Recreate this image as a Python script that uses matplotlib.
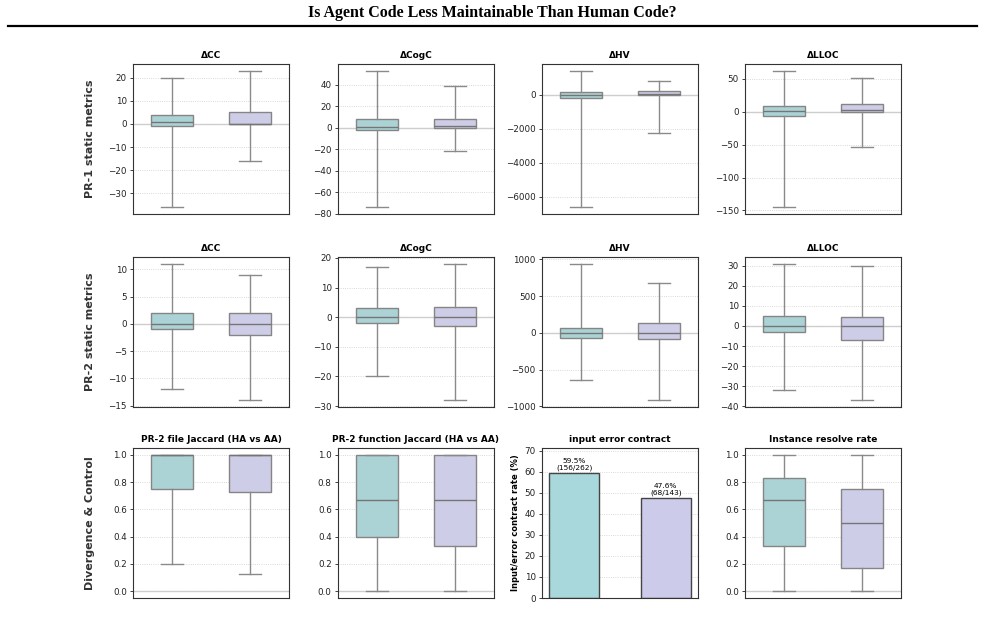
import matplotlib.pyplot as plt

TEAL = '#abd3d5'
LAV = '#cecde7'
BAR_TEAL = '#a8d8dc'
BAR_LAV = '#cccbe9'

# summary stats per panel: [whislo, q1, med, q3, whishi] for HA and AA
pr1_titles = ['ΔCC', 'ΔCogC', 'ΔHV', 'ΔLLOC']
pr1_ha = [[-36, -1, 1, 4, 20], [-74, -2, 1, 8, 53],
          [-6600, -200, -40, 130, 1400], [-145, -7, 1, 8.5, 62]]
pr1_aa = [[-16, 0, 0, 5, 23], [-22, 0, 2, 8, 39],
          [-2250, -10, 40, 230, 780], [-53, 0, 2, 12, 51]]

pr2_titles = ['ΔCC', 'ΔCogC', 'ΔHV', 'ΔLLOC']
pr2_ha = [[-12, -1, 0, 2, 11], [-20, -2, 0, 3, 17],
          [-640, -77, 0, 68, 940], [-32, -3, 0, 5, 31]]
pr2_aa = [[-14, -2, 0, 2, 9], [-28, -3, 0, 3.5, 18],
          [-918, -91, 0, 127, 682], [-37, -7, 0, 4.5, 30]]

div_titles = ['PR-2 file Jaccard (HA vs AA)', 'PR-2 function Jaccard (HA vs AA)',
              'input error contract', 'Instance resolve rate']
file_jac = [[0.2, 0.75, 1.0, 1.0, 1.0], [0.125, 0.73, 1.0, 1.0, 1.0]]
func_jac = [[0.0, 0.4, 0.667, 1.0, 1.0], [0.0, 0.333, 0.667, 1.0, 1.0]]
resolve = [[0.0, 0.333, 0.667, 0.833, 1.0], [0.0, 0.167, 0.5, 0.75, 1.0]]

contract_rate = [59.5, 47.6]
contract_hits = [156, 68]
contract_total = [262, 143]

row_labels = ['PR-1 static metrics', 'PR-2 static metrics', 'Divergence & Control']

W, H = 985, 627
LEFTS = [133, 338, 542, 745]
TOPS = [64, 257, 448]
AW, AH = 156, 150


def make_ax(fig, r, c):
    return fig.add_axes([LEFTS[c] / W, (H - TOPS[r] - AH) / H, AW / W, AH / H])


def style(ax, title):
    ax.set_title(title, fontsize=6.5, fontweight='bold', pad=4)
    ax.set_xticks([])
    ax.tick_params(axis='y', labelsize=6.3, length=2.5, width=0.6, pad=2, colors='#222222')
    ax.yaxis.grid(True, linestyle=':', color='#cccccc', linewidth=0.6)
    ax.set_axisbelow(True)
    for s in ax.spines.values():
        s.set_color('#333333')
        s.set_linewidth(0.8)


def box_panel(ax, ha, aa, title):
    stats = []
    for v in (ha, aa):
        stats.append(dict(whislo=v[0], q1=v[1], med=v[2], q3=v[3], whishi=v[4]))
    ax.axhline(0, color='#cfcfcf', linewidth=1.0, zorder=0.5)
    bp = ax.bxp(stats, positions=[0, 1], widths=0.55, patch_artist=True, showfliers=False,
                boxprops=dict(edgecolor='#858585', linewidth=1.0),
                whiskerprops=dict(color='#8a8a8a', linewidth=1.0),
                capprops=dict(color='#8a8a8a', linewidth=1.0),
                medianprops=dict(color='#757575', linewidth=1.0))
    for patch, col in zip(bp['boxes'], [TEAL, LAV]):
        patch.set_facecolor(col)
    ax.set_xlim(-0.5, 1.5)
    style(ax, title)


def main():
    fig = plt.figure(figsize=(W / 100, H / 100), dpi=100)

    fig.text(0.5, 1 - 13 / H, 'Is Agent Code Less Maintainable Than Human Code?',
             ha='center', va='center', fontsize=11.5, fontweight='bold', family='Liberation Serif')
    fig.add_artist(plt.Line2D([8 / W, 977 / W], [1 - 26 / H, 1 - 26 / H],
                              color='black', linewidth=1.6))

    for c in range(4):
        box_panel(make_ax(fig, 0, c), pr1_ha[c], pr1_aa[c], pr1_titles[c])
        box_panel(make_ax(fig, 1, c), pr2_ha[c], pr2_aa[c], pr2_titles[c])

    box_panel(make_ax(fig, 2, 0), file_jac[0], file_jac[1], div_titles[0])
    box_panel(make_ax(fig, 2, 1), func_jac[0], func_jac[1], div_titles[1])
    box_panel(make_ax(fig, 2, 3), resolve[0], resolve[1], div_titles[3])

    ax = make_ax(fig, 2, 2)
    bars = ax.bar([0, 1], contract_rate, width=0.55, color=[BAR_TEAL, BAR_LAV],
                  edgecolor='#444444', linewidth=1.0)
    for b, rate, k, n in zip(bars, contract_rate, contract_hits, contract_total):
        ax.text(b.get_x() + b.get_width() / 2, rate + 1, f'{rate}%\n({k}/{n})',
                ha='center', va='bottom', fontsize=5.3, linespacing=1.1)
    ax.set_ylim(0, max(contract_rate) * 1.2)
    ax.set_ylabel('Input/error contract rate (%)', fontsize=6, fontweight='bold', labelpad=3)
    style(ax, div_titles[2])

    for r, lab in enumerate(row_labels):
        fig.text(90 / W, 1 - (TOPS[r] + AH / 2) / H, lab, rotation=90, ha='center',
                 va='center', fontsize=8, fontweight='bold', color='#333333')

    fig.savefig('out.png', dpi=100)


if __name__ == '__main__':
    main()
